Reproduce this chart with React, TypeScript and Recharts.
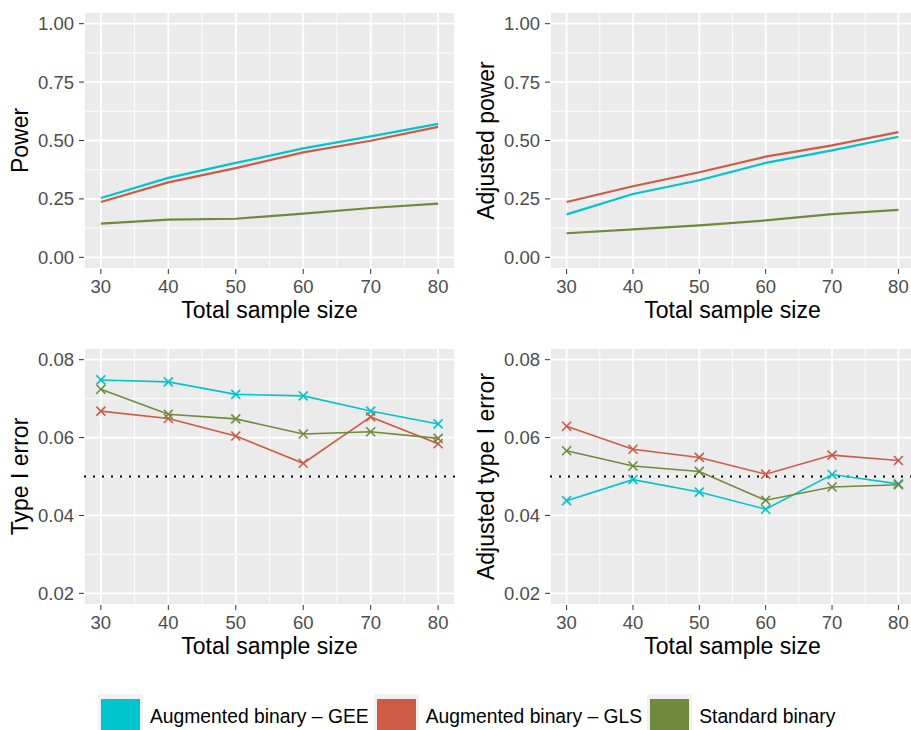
import { LineChart, Line, XAxis, YAxis, CartesianGrid, ReferenceLine } from "recharts";

const sampleSizes = [30, 40, 50, 60, 70, 80];
const xTicks = [30, 40, 50, 60, 70, 80];
const xMinor = [35, 45, 55, 65, 75];

const powerTicks = [0, 0.25, 0.5, 0.75, 1];
const powerMinor = [0.125, 0.375, 0.625, 0.875];
const errorTicks = [0.02, 0.04, 0.06, 0.08];
const errorMinor = [0.03, 0.05, 0.07];

const seriesNames = ["Augmented binary \u2013 GEE", "Augmented binary \u2013 GLS", "Standard binary"];
const seriesColors = ["#00C5CD", "#CD5B45", "#6E8B3D"];

const powerGEE = [0.254, 0.34, 0.404, 0.466, 0.518, 0.571];
const powerGLS = [0.237, 0.321, 0.382, 0.449, 0.499, 0.558];
const powerStd = [0.144, 0.161, 0.165, 0.187, 0.211, 0.23];

const adjPowerGEE = [0.184, 0.271, 0.33, 0.404, 0.458, 0.516];
const adjPowerGLS = [0.237, 0.304, 0.364, 0.431, 0.479, 0.536];
const adjPowerStd = [0.103, 0.12, 0.137, 0.158, 0.185, 0.203];

const errGEE = [0.0748, 0.0743, 0.0711, 0.0707, 0.0668, 0.0635];
const errGLS = [0.0668, 0.0649, 0.0604, 0.0534, 0.0653, 0.0584];
const errStd = [0.0724, 0.066, 0.0648, 0.0609, 0.0615, 0.0598];

const adjErrGEE = [0.0438, 0.0492, 0.046, 0.0416, 0.0505, 0.0481];
const adjErrGLS = [0.0629, 0.057, 0.0549, 0.0506, 0.0555, 0.0541];
const adjErrStd = [0.0566, 0.0527, 0.0513, 0.0439, 0.0473, 0.0479];

const nominalLevel = 0.05;

const buildRows = (gee: number[], gls: number[], std: number[]) =>
  sampleSizes.map((n, i) => ({ n, gee: gee[i], gls: gls[i], std: std[i] }));

const keys = ["gee", "gls", "std"];

const CrossDot = (props: any) => {
  const { cx, cy, stroke } = props;
  if (cx == null || cy == null) return null;
  const s = 4.5;
  return (
    <g key={`x-${cx}-${cy}`}>
      <line x1={cx - s} y1={cy - s} x2={cx + s} y2={cy + s} stroke={stroke} strokeWidth={1.6} />
      <line x1={cx - s} y1={cy + s} x2={cx + s} y2={cy - s} stroke={stroke} strokeWidth={1.6} />
    </g>
  );
};

type PanelProps = {
  left: number;
  top: number;
  width: number;
  yWidth: number;
  labelX: number;
  yLabel: string;
  rows: any[];
  domain: [number, number];
  ticks: number[];
  minor: number[];
  markers?: boolean;
};

function Panel({ left, top, width, yWidth, labelX, yLabel, rows, domain, ticks, minor, markers }: PanelProps) {
  return (
    <div style={{ position: "absolute", left, top }}>
      <LineChart width={width} height={329} data={rows} margin={{ top: 12, right: 0, bottom: 0, left: 0 }}>
        <CartesianGrid fill="#EBEBEB" stroke="#FFFFFF" strokeWidth={0.9} horizontalValues={minor} verticalValues={xMinor} />
        <CartesianGrid stroke="#FFFFFF" strokeWidth={1.8} />
        <XAxis
          type="number"
          dataKey="n"
          domain={[27.5, 82.5]}
          ticks={xTicks}
          allowDataOverflow
          height={60}
          axisLine={false}
          tickLine={{ stroke: "#333333" }}
          tickSize={5}
          tickMargin={6}
          tick={{ fill: "#4D4D4D", fontSize: 18.5 }}
          label={{ value: "Total sample size", position: "insideBottom", offset: 11, style: { fontSize: 23, fill: "#000" } }}
        />
        <YAxis
          type="number"
          domain={domain}
          ticks={ticks}
          allowDataOverflow
          width={yWidth}
          axisLine={false}
          tickLine={{ stroke: "#333333" }}
          tickSize={5}
          tickMargin={5}
          tick={{ fill: "#4D4D4D", fontSize: 18.5 }}
          tickFormatter={(v: number) => v.toFixed(2)}
          label={{ value: yLabel, angle: -90, position: "insideLeft", offset: labelX, style: { textAnchor: "middle", fontSize: 23, fill: "#000" } }}
        />
        {markers && <ReferenceLine y={nominalLevel} stroke="#000" strokeWidth={2} strokeDasharray="2 7" />}
        {keys.map((k, i) => (
          <Line
            key={k}
            dataKey={k}
            name={seriesNames[i]}
            stroke={seriesColors[i]}
            strokeWidth={markers ? 1.6 : 2.2}
            dot={markers ? <CrossDot /> : false}
            activeDot={false}
            isAnimationActive={false}
          />
        ))}
      </LineChart>
    </div>
  );
}

export default function App() {
  return (
    <div
      style={{
        position: "absolute",
        left: 0,
        top: 0,
        width: 911,
        height: 730,
        overflow: "hidden",
        background: "#fff",
        fontFamily: "'Liberation Sans', Arial, sans-serif",
      }}
    >
      <Panel left={0} top={0} width={455} yWidth={84} labelX={20} yLabel="Power"
        rows={buildRows(powerGEE, powerGLS, powerStd)} domain={[-0.05, 1.05]} ticks={powerTicks} minor={powerMinor} />
      <Panel left={455} top={0} width={460} yWidth={95} labelX={31} yLabel="Adjusted power"
        rows={buildRows(adjPowerGEE, adjPowerGLS, adjPowerStd)} domain={[-0.05, 1.05]} ticks={powerTicks} minor={powerMinor} />
      <Panel left={0} top={336} width={455} yWidth={84} labelX={20} yLabel="Type I error"
        rows={buildRows(errGEE, errGLS, errStd)} domain={[0.017, 0.083]} ticks={errorTicks} minor={errorMinor} markers />
      <Panel left={455} top={336} width={460} yWidth={95} labelX={31} yLabel="Adjusted type I error"
        rows={buildRows(adjErrGEE, adjErrGLS, adjErrStd)} domain={[0.017, 0.083]} ticks={errorTicks} minor={errorMinor} markers />

      <div style={{ position: "absolute", left: 98, top: 694, display: "flex", alignItems: "flex-start" }}>
        {seriesNames.map((name, i) => (
          <div key={name} style={{ display: "flex", alignItems: "flex-start", marginRight: 5 }}>
            <div style={{ width: 45, height: 45, background: "#F2F2F2", position: "relative" }}>
              <div style={{ position: "absolute", left: 3, top: 5, width: 39, height: 40, background: seriesColors[i] }} />
            </div>
            <span style={{ fontSize: 19.3, lineHeight: "20px", marginTop: 13, marginLeft: 7, color: "#000", whiteSpace: "nowrap" }}>
              {name}
            </span>
          </div>
        ))}
      </div>
    </div>
  );
}
